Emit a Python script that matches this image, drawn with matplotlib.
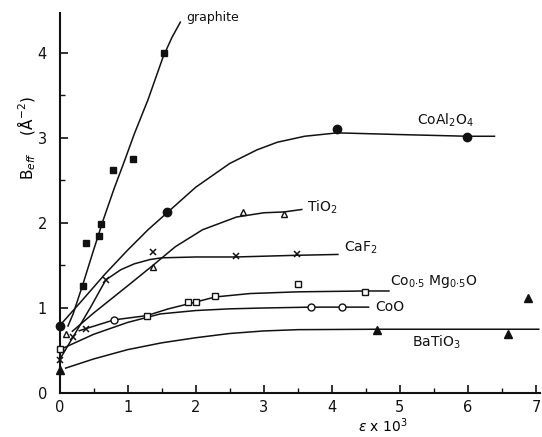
import matplotlib
matplotlib.use("Agg")
import matplotlib.pyplot as plt
from matplotlib.ticker import MultipleLocator

# ---- data (strain x 10^3, B_eff in A^-2) ----
graphite_x = [0.34, 0.39, 0.58, 0.61, 0.79, 1.08, 1.54]
graphite_y = [1.26, 1.76, 1.85, 1.99, 2.62, 2.75, 4.00]
graphite_cx = [0.12, 0.20, 0.34, 0.50, 0.64, 0.80, 0.95, 1.10, 1.30, 1.52, 1.65, 1.78]
graphite_cy = [0.78, 0.93, 1.27, 1.68, 2.03, 2.40, 2.72, 3.05, 3.45, 3.95, 4.18, 4.37]

coal_x = [0.0, 1.58, 4.08, 5.99]
coal_y = [0.79, 2.13, 3.10, 3.01]
coal_cx = [0.0, 0.30, 0.67, 1.00, 1.30, 1.58, 2.00, 2.50, 2.90, 3.20, 3.60, 4.08, 5.00, 6.00, 6.40]
coal_cy = [0.79, 1.06, 1.40, 1.68, 1.92, 2.12, 2.42, 2.70, 2.86, 2.95, 3.02, 3.06, 3.04, 3.02, 3.02]

tio2_x = [0.09, 1.37, 2.70, 3.29]
tio2_y = [0.69, 1.48, 2.13, 2.11]
tio2_cx = [0.18, 0.50, 1.00, 1.37, 1.70, 2.10, 2.60, 3.00, 3.30, 3.57]
tio2_cy = [0.72, 0.94, 1.26, 1.50, 1.72, 1.92, 2.07, 2.12, 2.13, 2.16]

caf2_x = [0.0, 0.20, 0.39, 0.68, 1.38, 2.59, 3.49]
caf2_y = [0.39, 0.66, 0.75, 1.33, 1.66, 1.61, 1.63]
caf2_cx = [0.0, 0.20, 0.45, 0.68, 0.90, 1.10, 1.33, 1.50, 2.00, 2.59, 3.49, 4.10]
caf2_cy = [0.39, 0.66, 1.00, 1.33, 1.45, 1.52, 1.57, 1.59, 1.60, 1.60, 1.62, 1.63]

comg_x = [0.0, 1.28, 1.89, 2.00, 2.29, 3.50, 4.49]
comg_y = [0.52, 0.90, 1.07, 1.07, 1.14, 1.28, 1.19]
comg_cx = [0.28, 0.80, 1.28, 1.60, 1.95, 2.29, 2.80, 3.50, 4.49, 4.85]
comg_cy = [0.73, 0.86, 0.91, 0.99, 1.06, 1.13, 1.17, 1.19, 1.20, 1.20]

coo_x = [0.80, 3.69, 4.15]
coo_y = [0.86, 1.01, 1.01]
coo_cx = [0.06, 0.50, 1.00, 1.48, 2.00, 2.50, 3.00, 3.69, 4.15, 4.55]
coo_cy = [0.53, 0.69, 0.83, 0.93, 0.97, 0.99, 1.00, 1.01, 1.01, 1.01]

bati_x = [0.0, 4.67, 6.58, 6.88]
bati_y = [0.27, 0.74, 0.69, 1.12]
bati_cx = [0.08, 0.50, 1.00, 1.50, 2.00, 2.50, 3.00, 3.50, 4.67, 5.50, 6.58, 7.05]
bati_cy = [0.29, 0.40, 0.51, 0.59, 0.65, 0.70, 0.73, 0.745, 0.75, 0.75, 0.75, 0.75]

xticks = [0, 1, 2, 3, 4, 5, 6, 7]
yticks = [0, 1, 2, 3, 4]

ink = "#111111"

fig = plt.figure(figsize=(5.42, 4.37), dpi=100)
ax = fig.add_axes([59.5 / 542, 44 / 437, 480 / 542, 380 / 437])
ax.set_xlim(0, 7.05)
ax.set_ylim(0, 4.47)

lw = 1.1
for cx, cy in [(graphite_cx, graphite_cy), (coal_cx, coal_cy), (tio2_cx, tio2_cy),
               (caf2_cx, caf2_cy), (comg_cx, comg_cy), (coo_cx, coo_cy),
               (bati_cx, bati_cy)]:
    ax.plot(cx, cy, color=ink, lw=lw, solid_capstyle="butt", zorder=2, clip_on=False)

ax.plot(graphite_x, graphite_y, ls="none", marker="s", ms=5, mfc=ink, mec=ink, zorder=3, clip_on=False)
ax.plot(coal_x, coal_y, ls="none", marker="o", ms=6, mfc=ink, mec=ink, zorder=3, clip_on=False)
ax.plot(tio2_x, tio2_y, ls="none", marker="^", ms=5, mfc="white", mec=ink, mew=1.0, zorder=3, clip_on=False)
ax.plot(caf2_x, caf2_y, ls="none", marker="x", ms=5, mec=ink, mew=1.1, zorder=3, clip_on=False)
ax.plot(comg_x, comg_y, ls="none", marker="s", ms=4.2, mfc="white", mec=ink, mew=1.0, zorder=3, clip_on=False)
ax.plot(coo_x, coo_y, ls="none", marker="o", ms=5, mfc="white", mec=ink, mew=1.0, zorder=3, clip_on=False)
ax.plot(bati_x, bati_y, ls="none", marker="^", ms=6, mfc=ink, mec=ink, zorder=3, clip_on=False)

fs = 10
ax.text(1.86, 4.42, "graphite", fontsize=9, color=ink, va="center", ha="left")
ax.text(5.25, 3.21, r"CoAl$_2$O$_4$", fontsize=fs, color=ink, va="center", ha="left")
ax.text(3.64, 2.19, r"TiO$_2$", fontsize=fs, color=ink, va="center", ha="left")
ax.text(4.18, 1.71, r"CaF$_2$", fontsize=fs, color=ink, va="center", ha="left")
ax.text(4.86, 1.31, r"Co$_{0{\cdot}5}$ Mg$_{0{\cdot}5}$O", fontsize=fs, color=ink, va="center", ha="left")
ax.text(4.64, 1.01, "CoO", fontsize=fs, color=ink, va="center", ha="left")
ax.text(5.18, 0.60, r"BaTiO$_3$", fontsize=fs, color=ink, va="center", ha="left")

for s in ["top", "right"]:
    ax.spines[s].set_visible(False)
for s in ["left", "bottom"]:
    ax.spines[s].set_linewidth(1.5)
    ax.spines[s].set_color(ink)

ax.set_xticks(xticks)
ax.set_yticks(yticks)
ax.xaxis.set_minor_locator(MultipleLocator(0.5))
ax.yaxis.set_minor_locator(MultipleLocator(0.5))
ax.tick_params(which="major", direction="in", length=6, width=1.2, colors=ink,
               labelsize=10.5, pad=5)
ax.tick_params(which="minor", direction="in", length=3.5, width=1.0, colors=ink)
ax.tick_params(axis="y", which="major", pad=9)

ax.set_xlabel(r"$\varepsilon$ x 10$^3$", fontsize=10)
ax.xaxis.set_label_coords(0.674, -0.062)
ax.set_ylabel(r"B$_{eff}$    ($\mathrm{\AA}^{-2}$)", fontsize=11)
ax.yaxis.set_label_coords(-0.045, 0.67)

fig.savefig("out.png", dpi=100, facecolor="white")
